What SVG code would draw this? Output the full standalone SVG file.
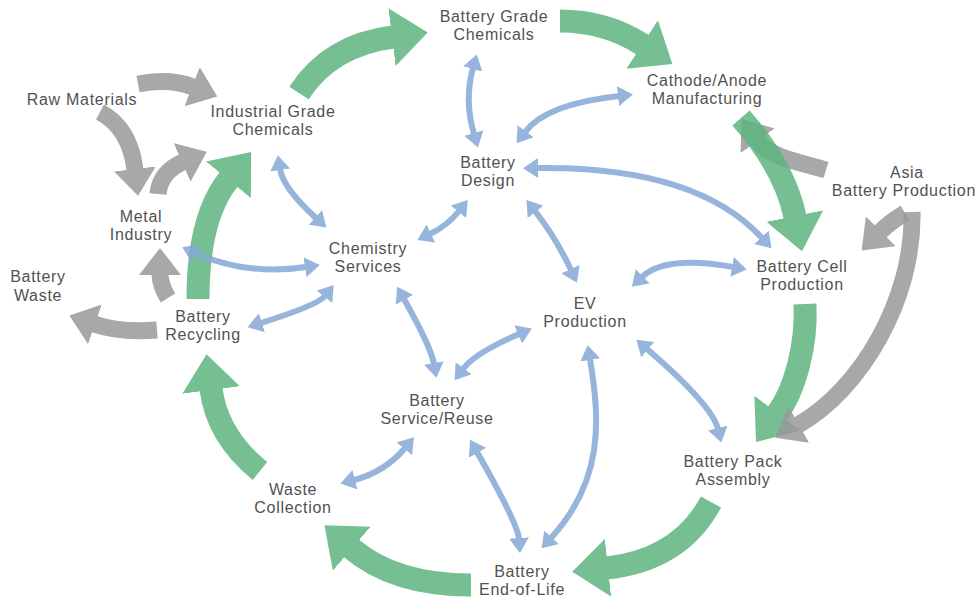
<svg xmlns="http://www.w3.org/2000/svg" width="978" height="600" viewBox="0 0 978 600">
  <style>
    .lbl { font-family: "Liberation Sans", Arial, sans-serif; font-size: 16px; letter-spacing: 0.7px; fill: #525252; text-anchor: middle; }
    .flow { fill: none; stroke: #5eb57f; stroke-width: 23; stroke-linecap: butt; marker-end: url(#headGreen); }
    .ext { fill: none; stroke: #999999; stroke-width: 17; stroke-linecap: butt; marker-end: url(#headGrey); }
    .link { fill: none; stroke: #86a8d7; stroke-width: 6; stroke-linecap: butt; marker-start: url(#headBlue); marker-end: url(#headBlue); }
    .op { opacity: 0.85; }
  </style>
  <defs>
    <marker id="headGreen" markerUnits="userSpaceOnUse" viewBox="0 0 40 60" markerWidth="40" markerHeight="60" refX="1" refY="29" orient="auto">
      <path d="M0,0 L36,29 L0,58 z" fill="#5eb57f"/>
    </marker>
    <marker id="headGrey" markerUnits="userSpaceOnUse" viewBox="0 0 30 44" markerWidth="30" markerHeight="44" refX="1" refY="21" orient="auto">
      <path d="M0,0 L27,21 L0,42 z" fill="#999999"/>
    </marker>
    <marker id="headBlue" markerUnits="userSpaceOnUse" viewBox="0 0 16 20" markerWidth="16" markerHeight="20" refX="1" refY="10" orient="auto-start-reverse">
      <path d="M0,0 L15,10 L0,20 z" fill="#86a8d7"/>
    </marker>
  </defs>

  <rect width="978" height="600" fill="#ffffff"/>

  <g id="connectors">
    <!-- grey: outside inputs and side flows -->
    <g id="grey-flows">
      <g class="op"><path class="ext" d="M138 84 Q170 78 193 87"/></g>
      <g class="op"><path class="ext" d="M100 112 Q130 128 135 170"/></g>
      <g class="op"><path class="ext" d="M158 194 Q160 172 183 162"/></g>
      <g class="op"><path class="ext" d="M168 298 Q160 285 160 274"/></g>
      <g class="op"><path class="ext" d="M157 330 Q120 333 94 324"/></g>
      <g class="op"><path class="ext" d="M826 170 C800 162 770 158 757 140"/></g>
      <g class="op"><path class="ext" d="M905 213 Q890 222 880 232"/></g>
    </g>

    <!-- green: main material cycle -->
    <g id="green-cycle">
      <g class="op"><path class="flow" d="M299 93 Q330 45 393 37"/></g>
      <g class="op"><path class="flow" d="M560 21 Q606 21 643 45"/></g>
      <g class="op"><path class="flow" d="M741 118 Q785 168 795 217"/></g>
      <g class="op"><path class="flow" d="M805 304 C807 345 795 390 777 414"/></g>
      <g class="op"><path class="flow" d="M711 502 Q680 560 607 568"/></g>
      <g class="op"><path class="flow" d="M471 585 Q394 585 351 548"/></g>
      <g class="op"><path class="flow" d="M260 471 Q217 436 211 389"/></g>
      <g class="op"><path class="flow" d="M198 299 Q198 217 229 179"/></g>
    </g>

    <!-- grey import into pack assembly, drawn over the green head -->
    <g class="op"><path class="ext" d="M912 212 C914 300 860 390 798 425"/></g>

    <!-- blue: two-way information links -->
    <g id="blue-links" class="op">
      <path class="link" d="M473 68 Q464 100 474 134"/>
      <path class="link" d="M525 132 Q546 104 619 96"/>
      <path class="link" d="M537 168 Q696 166 762 238"/>
      <path class="link" d="M535 211 Q556 238 571 270"/>
      <path class="link" d="M459 211 Q447 226 430 234"/>
      <path class="link" d="M280 169 Q283 188 316 218"/>
      <path class="link" d="M195 253 Q247 276 306 267"/>
      <path class="link" d="M261 323 Q318 305 325 296"/>
      <path class="link" d="M404 299 Q431 347 434 364"/>
      <path class="link" d="M463 369 Q475 353 519 334"/>
      <path class="link" d="M590 359 C600 420 604 480 551 538"/>
      <path class="link" d="M477 452 Q518 524 519 539"/>
      <path class="link" d="M354 480 Q385 472 405 448"/>
      <path class="link" d="M642 277 Q665 255 733 267"/>
      <path class="link" d="M647 349 Q712 405 718 429"/>
    </g>
  </g>

  <g id="raw-materials"><text class="lbl" x="82" y="105">Raw Materials</text></g>
  <g id="industrial-grade-chemicals"><text class="lbl" x="273" y="117">Industrial Grade<tspan x="273" dy="18">Chemicals</tspan></text></g>
  <g id="battery-grade-chemicals"><text class="lbl" x="494" y="22">Battery Grade<tspan x="494" dy="18">Chemicals</tspan></text></g>
  <g id="cathode-anode-manufacturing"><text class="lbl" x="707" y="86">Cathode/Anode<tspan x="707" dy="18">Manufacturing</tspan></text></g>
  <g id="battery-design"><text class="lbl" x="488" y="168">Battery<tspan x="488" dy="18">Design</tspan></text></g>
  <g id="metal-industry"><text class="lbl" x="141" y="222">Metal<tspan x="141" dy="18">Industry</tspan></text></g>
  <g id="battery-waste"><text class="lbl" x="38" y="282">Battery<tspan x="38" dy="19">Waste</tspan></text></g>
  <g id="battery-recycling"><text class="lbl" x="203" y="322">Battery<tspan x="203" dy="18">Recycling</tspan></text></g>
  <g id="chemistry-services"><text class="lbl" x="368" y="254">Chemistry<tspan x="368" dy="18">Services</tspan></text></g>
  <g id="ev-production"><text class="lbl" x="585" y="309">EV<tspan x="585" dy="18">Production</tspan></text></g>
  <g id="battery-cell-production"><text class="lbl" x="802" y="272">Battery Cell<tspan x="802" dy="18">Production</tspan></text></g>
  <g id="asia-battery-production"><text class="lbl" x="907" y="178">Asia<tspan x="976" dy="18" style="text-anchor:end">Battery Production</tspan></text></g>
  <g id="battery-service-reuse"><text class="lbl" x="437" y="406">Battery<tspan x="437" dy="18">Service/Reuse</tspan></text></g>
  <g id="battery-pack-assembly"><text class="lbl" x="733" y="467">Battery Pack<tspan x="733" dy="18">Assembly</tspan></text></g>
  <g id="waste-collection"><text class="lbl" x="293" y="495">Waste<tspan x="293" dy="18">Collection</tspan></text></g>
  <g id="battery-end-of-life"><text class="lbl" x="522" y="577">Battery<tspan x="522" dy="18">End-of-Life</tspan></text></g>
</svg>
